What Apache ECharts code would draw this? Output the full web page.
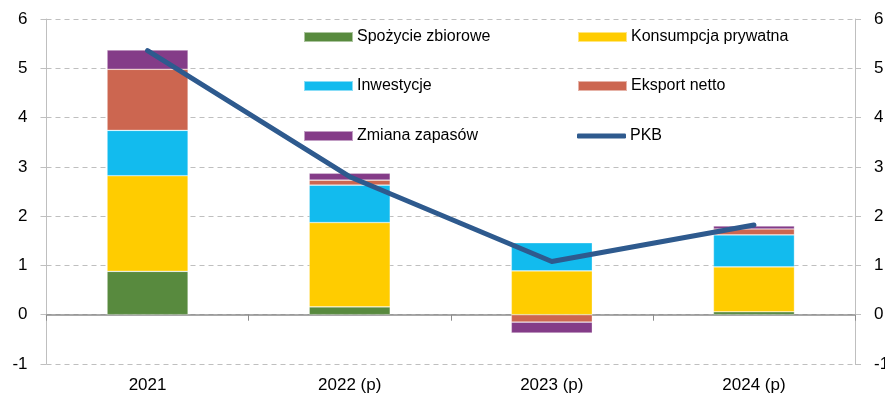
<!DOCTYPE html>
<html>
<head>
<meta charset="utf-8">
<script src="https://cdn.jsdelivr.net/npm/echarts@6/dist/echarts.min.js"></script>
<style>html,body{margin:0;padding:0;background:#fff;}#c{width:885px;height:400px;}</style>
</head>
<body>
<div id="c"></div>
<script>
const categories = ['2021', '2022 (p)', '2023 (p)', '2024 (p)'];
const spozycieZbiorowe = [0.88, 0.16, 0.0, 0.06];
const konsumpcjaPrywatna = [1.94, 1.71, 0.89, 0.91];
const inwestycje = [0.92, 0.76, 0.57, 0.65];
const eksportNetto = [1.24, 0.10, -0.15, 0.12];
const zmianaZapasow = [0.39, 0.14, -0.22, 0.06];
const pkb = [5.36, 2.8, 1.08, 1.82];
const yTicks = [-1, 0, 1, 2, 3, 4, 5, 6];

const names = ['Spożycie zbiorowe', 'Konsumpcja prywatna', 'Inwestycje', 'Eksport netto', 'Zmiana zapasów', 'PKB'];
const colors = ['#588A3E', '#FFCC00', '#12BBEE', '#CC6650', '#843C88', '#2E5A8E'];
const barData = [spozycieZbiorowe, konsumpcjaPrywatna, inwestycje, eksportNetto, zmianaZapasow];

const chart = echarts.init(document.getElementById('c'), null, {renderer: 'canvas'});
const font = "'Liberation Sans', Arial, sans-serif";

const legendPos = [
  {left: 303, top: 29}, {left: 577, top: 29},
  {left: 303, top: 78}, {left: 577, top: 78},
  {left: 303, top: 128}, {left: 577, top: 128}
];
const legends = names.map((n, i) => ({
  data: [i === 5 ? {name: n, icon: 'roundRect'} : {name: n, icon: 'rect'}],
  left: legendPos[i].left, top: legendPos[i].top,
  itemWidth: 49, itemHeight: i === 5 ? 5 : 10, itemGap: 0,
  padding: 0,
  selectedMode: false,
  textStyle: {fontFamily: font, fontSize: 16, color: '#000', padding: [0, 0, 0, -1]}
}));

const yAxisCommon = {
  type: 'value', min: -1, max: 6, interval: 1,
  axisLine: {show: true, lineStyle: {color: '#BFBFBF', width: 1}},
  axisTick: {show: true, length: 6, lineStyle: {color: '#BFBFBF'}},
  axisLabel: {fontFamily: font, fontSize: 17, color: '#000', margin: 19,
    formatter: v => yTicks.includes(v) ? String(v) : ''},
  splitLine: {show: true, lineStyle: {color: '#BFBFBF', type: [5, 4], width: 1}}
};

chart.setOption({
  animation: false,
  backgroundColor: '#fff',
  legend: legends,
  grid: {left: 46.5, right: 30, top: 19, bottom: 36, containLabel: false, outerBoundsMode: 'none'},
  xAxis: [
    {
      type: 'category', data: categories, position: 'bottom',
      axisLine: {show: false, onZero: false},
      axisTick: {show: false},
      axisLabel: {fontFamily: font, fontSize: 17, color: '#000', margin: 13},
      splitLine: {show: false}
    },
    {
      type: 'category', data: categories, position: 'bottom',
      axisLine: {show: true, onZero: true, onZeroAxisIndex: 0, lineStyle: {color: '#8C8C8C', width: 1.5}},
      axisTick: {show: true, length: 6, lineStyle: {color: '#8C8C8C'}},
      axisLabel: {show: false},
      splitLine: {show: false}
    }
  ],
  yAxis: [
    Object.assign({}, yAxisCommon, {position: 'left'}),
    Object.assign({}, yAxisCommon, {position: 'right', splitLine: {show: false}})
  ],
  series: barData.map((d, i) => ({
    name: names[i], type: 'bar', stack: 'total', data: d,
    xAxisIndex: 0, yAxisIndex: 0,
    barWidth: 81,
    itemStyle: {color: colors[i], borderColor: 'rgba(255,255,255,0.5)', borderWidth: 0.6},
    z: 2
  })).concat([{
    name: names[5], type: 'line', data: pkb,
    xAxisIndex: 0, yAxisIndex: 0,
    showSymbol: false, symbol: 'none',
    itemStyle: {color: colors[5]},
    lineStyle: {color: colors[5], width: 5, cap: 'round', join: 'round'},
    z: 5
  }])
});
</script>
</body>
</html>
